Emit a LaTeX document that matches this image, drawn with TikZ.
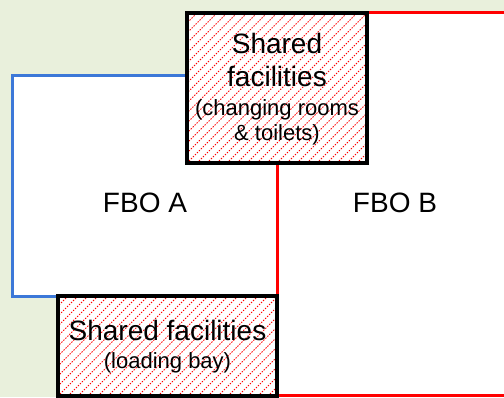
\documentclass[tikz,border=0pt]{standalone}
\usepackage{fontspec}
\setmainfont{Liberation Sans}
\definecolor{bggreen}{RGB}{233,240,220}
\definecolor{fboblue}{RGB}{60,120,216}
\tikzset{
  hatch/.style={red, line width=0.9pt, dash pattern=on 1.4pt off 1.4pt},
  sharedbox/.style={line width=3.5pt, draw=black},
  bigtext/.style={font=\fontsize{28}{33}\selectfont, inner sep=0pt, anchor=base},
  smalltext/.style={font=\fontsize{22}{25}\selectfont, inner sep=0pt, anchor=base}
}

\begin{document}
\begin{tikzpicture}[line join=miter,x=1pt,y=-1pt]
	\useasboundingbox (0,0) rectangle (504,397);
	\clip (0,0) rectangle (504,397);
	\fill [bggreen] (0,0) rectangle (504,397);
	% the two businesses
	\draw [line width=3pt, draw=fboblue, fill=white] (12,75) rectangle (277,296);
	\draw [line width=3pt, draw=red, fill=white] (277,12.5) rectangle (530,395);
	% shared areas, hatched
	\fill [white] (187,13) rectangle (367,163);
	\fill [white] (58,296) rectangle (277,396);
	\begin{scope}
		\clip (187,13) rectangle (367,163);
		\foreach \k in {-16,...,19}
			\draw [hatch] (187+\k*10,163) -- ++(180,-180);
	\end{scope}
	\begin{scope}
		\clip (58,296) rectangle (277,396);
		\foreach \k in {-11,...,23}
			\draw [hatch] (58+\k*10,396) -- ++(120,-120);
	\end{scope}
	\draw [sharedbox] (187,13) rectangle (367,163);
	\draw [sharedbox] (58,296) rectangle (277,396);
	% labels
	\node [bigtext] (fboa) at (145,212) {FBO A};
	\node [bigtext] (fbob) at (395,212) {FBO B};
	\node [bigtext] (topa) at (277,53) {Shared};
	\node [bigtext] (topb) at (277,86) {facilities};
	\node [smalltext] (topc) at (277,115) {(changing rooms};
	\node [smalltext] (topd) at (277,140) {\& toilets)};
	\node [bigtext] (bota) at (167.5,340) {Shared facilities};
	\node [smalltext] (botb) at (167.5,368) {(loading bay)};
\end{tikzpicture}
\end{document}
